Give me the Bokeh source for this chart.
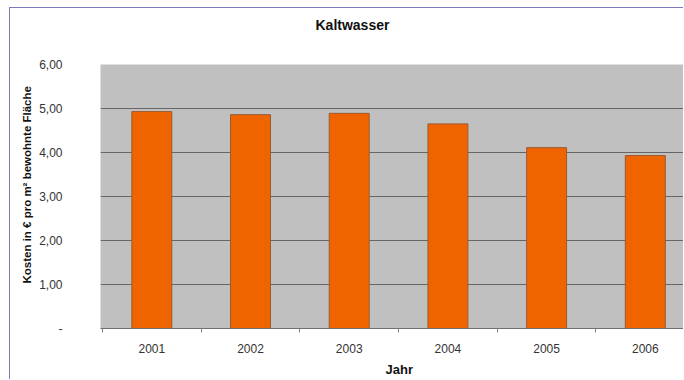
from bokeh.plotting import figure
from bokeh.models import FixedTicker, Range1d, Title, ColumnDataSource
from bokeh.embed import file_html
from bokeh.resources import INLINE

# ---- data ----
years = ["2001", "2002", "2003", "2004", "2005", "2006"]
costs = [4.93, 4.86, 4.89, 4.65, 4.11, 3.93]
y_ticks = [0, 1, 2, 3, 4, 5, 6]
y_tick_labels = ["-", "1,00", "2,00", "3,00", "4,00", "5,00", "6,00"]
title_text = "Kaltwasser"
y_title = "Kosten in € pro m² bewohnte Fläche"
x_title = "Jahr"

FONT = "Liberation Sans"
pos = list(range(1, len(years) + 1))
src = ColumnDataSource(dict(x=pos, top=costs, year=years))

p = figure(width=674, height=372, output_backend="svg", toolbar_location=None,
           x_range=Range1d(0.48, 6.397), y_range=Range1d(0, 6),
           min_border_left=90, min_border_top=56, min_border_bottom=52,
           min_border_right=0, background_fill_color="#c0c0c0",
           border_fill_color="white", outline_line_color=None)
p.margin = (7, 0, 0, 9)
p.styles = {"border-left": "1px solid #7a7abc", "border-top": "1px solid #7a7abc"}

p.vbar(x="x", top="top", width=0.405, source=src, fill_color="#f06400",
       line_color="#9a5a30", line_width=1)

# grid
p.xgrid.grid_line_color = None
p.ygrid.ticker = FixedTicker(ticks=y_ticks)
p.ygrid.grid_line_color = "#666666"
p.ygrid.grid_line_width = 1

# x axis
xa = p.xaxis[0]
xa.ticker = FixedTicker(ticks=pos, minor_ticks=[v + 0.5 for v in range(0, len(years) + 1)])
xa.major_label_overrides = {i: y for i, y in zip(pos, years)}
xa.major_tick_line_color = None
xa.major_tick_out = 0
xa.major_tick_in = 0
xa.minor_tick_out = 4
xa.minor_tick_in = 0
xa.minor_tick_line_color = "#808080"
xa.axis_line_color = "#707070"
xa.major_label_standoff = 11
xa.major_label_text_font = FONT
xa.major_label_text_font_size = "12px"
xa.major_label_text_color = "#333333"

# y axis
ya = p.yaxis[0]
ya.ticker = FixedTicker(ticks=y_ticks)
ya.major_label_overrides = {t: l for t, l in zip(y_ticks, y_tick_labels)}
ya.major_tick_out = 0
ya.major_tick_in = 0
ya.minor_tick_line_color = None
ya.axis_line_color = None
ya.major_label_standoff = 38
ya.major_label_text_font = FONT
ya.major_label_text_font_size = "12px"
ya.major_label_text_color = "#333333"

# titles
p.add_layout(Title(text=" ", text_font_size="12px", standoff=11), "above")
p.add_layout(Title(text=title_text, align="left", offset=215, text_font=FONT,
                   text_font_size="14px", text_font_style="bold",
                   text_color="#111111"), "above")
p.add_layout(Title(text=y_title, align="left", offset=45, text_font=FONT,
                   text_font_size="11.5px", text_font_style="bold",
                   text_color="#111111", standoff=8), "left")
p.add_layout(Title(text=x_title, align="left", offset=285, text_font=FONT,
                   text_font_size="13px", text_font_style="bold",
                   text_color="#111111", standoff=8), "below")

open("out.html", "w").write(file_html(p, INLINE))
